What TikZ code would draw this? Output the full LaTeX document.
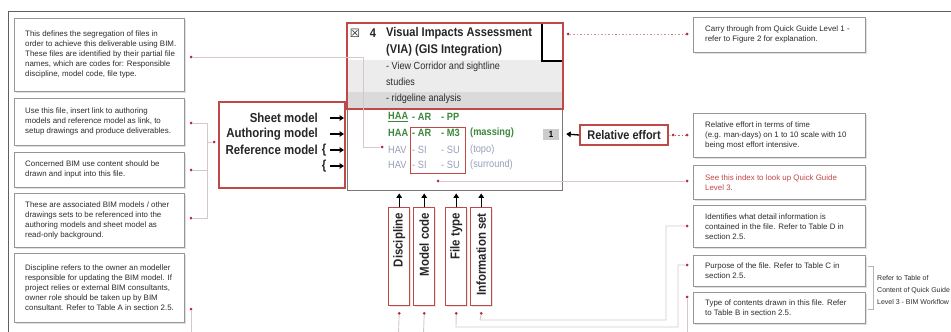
\documentclass[tikz,border=0pt]{standalone}
\usepackage{fontspec}
\setmainfont{Liberation Sans}
\newfontfamily\condfont[FakeStretch=0.88]{Liberation Sans}
\newfontfamily\symbfont{DejaVu Sans}
\usetikzlibrary{arrows.meta,shadows,calc}

\definecolor{boxred}{RGB}{192,72,70}
\definecolor{dotred}{RGB}{175,45,60}
\definecolor{linkgray}{RGB}{214,200,202}
\definecolor{boxgray}{RGB}{150,150,150}
\definecolor{framegray}{RGB}{95,95,95}
\definecolor{bodytext}{RGB}{45,45,45}
\definecolor{codegreen}{RGB}{60,135,60}
\definecolor{codeblue}{RGB}{150,160,185}
\definecolor{bandlight}{RGB}{236,236,236}
\definecolor{banddark}{RGB}{218,218,218}

% explanation box: frame node plus a left-aligned text node
\newcommand\infobox[7][]{%
  \node[infobox, minimum width=#5pt, minimum height=#6pt, anchor=north west] (#2) at (#3,#4) {};
  \node[infotext, anchor=west, #1] (#2t) at ([xshift=11pt]#2.west) {#7};
}

\begin{document}
\begin{tikzpicture}[x=1pt, y=-1pt,
  infobox/.style={draw=boxgray, line width=0.8pt, fill=white, inner sep=0pt,
    drop shadow={shadow xshift=1.2pt, shadow yshift=-1.2pt, opacity=0.25}},
  infotext/.style={font=\fontsize{7.9}{10}\selectfont, text=bodytext, align=left, inner sep=0pt},
  redbox/.style={draw=boxred, line width=1.6pt, fill=white, inner sep=0pt,
    drop shadow={shadow xshift=1.2pt, shadow yshift=-1.2pt, opacity=0.2}},
  boldlab/.style={font=\condfont\bfseries\fontsize{13}{16}\selectfont, text=black!85, inner sep=0pt},
  titlefont/.style={font=\condfont\bfseries\fontsize{12.6}{14}\selectfont},
  vlab/.style={font=\condfont\bfseries\fontsize{13}{14}\selectfont, text=black!85, inner sep=0pt, rotate=90, anchor=east},
  codetxt/.style={font=\condfont\bfseries\fontsize{10.5}{12}\selectfont, inner sep=0pt, anchor=west},
  codelite/.style={codetxt, text=codeblue, font=\condfont\fontsize{10.5}{12}\selectfont},
  subtxt/.style={font=\condfont\fontsize{10.3}{12}\selectfont, text=bodytext, inner sep=0pt, anchor=west},
  dot/.style={circle, fill=dotred, inner sep=0pt, minimum size=3pt},
  link/.style={draw=linkgray, line width=0.9pt},
  dotlink/.style={draw=dotred!55, line width=0.9pt, dash pattern=on 1.5pt off 2pt},
  pointer/.style={-{Triangle[width=5.5pt,length=4.5pt]}, line width=1.3pt, black}]

\clip (0,0) rectangle (951,332);
\fill[white] (0,0) rectangle (951,332);

% outer frame lines
\draw[framegray, line width=1pt] (8,332) -- (8,11) -- (951,11);

% ---------- left explanation boxes ----------
\infobox{b1}{14}{18}{170}{73}{This defines the segregation of files in\\order to achieve this deliverable using BIM.\\These files are identified by their partial file\\names, which are codes for: Responsible\\discipline, model code, file type.}
\infobox{b2}{14}{98}{170}{47}{Use this file, insert link to authoring\\models and reference model as link, to\\setup drawings and produce deliverables.}
\infobox{b3}{14}{152}{170}{35}{Concerned BIM use content should be\\drawn and input into this file.}
\infobox{b4}{14}{193}{170}{54}{These are associated BIM models / other\\drawings sets to be referenced into the\\authoring models and sheet model as\\read-only background.}
\infobox{b5}{14}{253}{170}{69}{Discipline refers to the owner an modeller\\responsible for updating the BIM model. If\\project relies or external BIM consultants,\\owner role should be taken up by BIM\\consultant. Refer to Table A in section 2.5.}

% ---------- right explanation boxes ----------
\infobox[xshift=1pt]{r1}{693}{17}{172}{35}{Carry through from Quick Guide Level 1 -\\refer to Figure 2 for explanation.}
\infobox[xshift=1pt]{r2}{693}{113}{172}{44}{Relative effort in terms of time\\(e.g. man-days) on 1 to 10 scale with 10\\being most effort intensive.}
\infobox[xshift=1pt, text=boxred]{r3}{693}{165}{172}{34}{See this index to look up Quick Guide\\Level 3.}
\infobox[xshift=1pt]{r4}{693}{205}{172}{42}{Identifies what detail information is\\contained in the file. Refer to Table D in\\section 2.5.}
\infobox[xshift=1pt]{r5}{693}{255}{172}{31}{Purpose of the file. Refer to Table C in\\section 2.5.}
\infobox[xshift=1pt]{r6}{693}{292}{172}{31}{Type of contents drawn in this file. Refer\\to Table B in section 2.5.}

% ---------- deliverable card ----------
\node[draw=framegray!85, line width=1.4pt, fill=white, inner sep=0pt,
      minimum width=215pt, minimum height=168pt, anchor=north west] (via) at (347,22) {};
\fill[bandlight] (347,60) rectangle (562,92);
\fill[banddark] (347,92) rectangle (562,108);
\draw[black, line width=1.3pt] (542,22) -- (542,61) -- (562,61);
\node[draw=boxred, line width=1.8pt, inner sep=0pt,
      minimum width=216pt, minimum height=86pt, anchor=north west] (viatop) at (346,22) {};

\node[font=\symbfont\bfseries\fontsize{11.5}{12}\selectfont, text=black!85, inner sep=0pt] (chk) at (355,33) {☒};
\node[boldlab, titlefont] (num) at (373,33) {4};
\node[boldlab, titlefont, anchor=west] (tit1) at (386,33) {Visual Impacts Assessment};
\node[boldlab, titlefont, anchor=west] (tit2) at (386,50) {(VIA) (GIS Integration)};
\node[subtxt] (sub1) at (386,67) {- View Corridor and sightline};
\node[subtxt] (sub2) at (386,82) {studies};
\node[subtxt] (sub3) at (386,99) {- ridgeline analysis};

% file name codes
\node[codetxt, text=codegreen] (c11) at (388,117) {\underline{HAA}};
\node[codetxt, text=codegreen] (c12) at (412,117) {- AR};
\node[codetxt, text=codegreen] (c13) at (441,117) {- PP};
\node[codetxt, text=codegreen] (c21) at (388,133) {HAA};
\node[codetxt, text=codegreen] (c22) at (412,133) {- AR};
\node[codetxt, text=codegreen] (c23) at (441,133) {- M3};
\node[codetxt, text=codegreen] (c24) at (470,133) {(massing)};
\node[codelite] (c31) at (388,150) {HAV};
\node[codelite] (c32) at (412,150) {- SI};
\node[codelite] (c33) at (441,150) {- SU};
\node[codelite] (c34) at (470,150) {(topo)};
\node[codelite] (c41) at (388,165) {HAV};
\node[codelite] (c42) at (412,165) {- SI};
\node[codelite] (c43) at (441,165) {- SU};
\node[codelite] (c44) at (470,165) {(surround)};
\node[draw=boxred, line width=1.4pt, inner sep=0pt,
      minimum width=55pt, minimum height=46pt, anchor=north west] (codebox) at (410,127) {};

% effort value
\node[fill=gray!40, minimum width=16pt, minimum height=11pt, inner sep=0pt,
      font=\condfont\bfseries\fontsize{9}{10}\selectfont] (effval) at (551,134) {1};

% ---------- model type box ----------
\node[redbox, minimum width=126pt, minimum height=86pt, anchor=north west] (sheet) at (218,101) {};
\node[boldlab, anchor=east] (m1) at (318,118) {Sheet model};
\node[boldlab, anchor=east] (m2) at (318,134) {Authoring model};
\node[boldlab, anchor=east] (m3) at (318,150) {Reference model};
\node[boldlab, font=\condfont\bfseries\fontsize{13}{14}\selectfont] (br1) at (324,150) {\{};
\node[boldlab, font=\condfont\bfseries\fontsize{13}{14}\selectfont] (br2) at (324,166) {\{};
\foreach \i/\yy in {1/118, 2/134, 3/150, 4/166} {
  \coordinate (ma\i) at (330,\yy);
  \coordinate (mb\i) at (344,\yy);
  \draw[pointer] (ma\i) -- (mb\i);
}

% ---------- relative effort ----------
\node[redbox, minimum width=88pt, minimum height=20pt] (eff) at (624,135) {};
\node[boldlab, font=\condfont\bfseries\fontsize{12.5}{14}\selectfont] (efft) at (624,135) {Relative effort};
\coordinate (effend) at ($(effval.east)+(7,0)$);
\draw[pointer] (eff.west) -- (effend);

% ---------- code part boxes ----------
\foreach \nm/\xx/\txt in {disc/388/Discipline, mcode/413/Model code, ftype/445/File type, iset/470/Information set} {
  \node[redbox, line width=1.4pt, minimum width=21pt, minimum height=98pt, anchor=north west] (\nm) at (\xx,207) {};
  \node[vlab] (\nm t) at ($(\nm.north)+(0,6)$) {\txt};
  \coordinate (\nm top) at ($(\nm.north |- via.south)+(0,2)$);
  \draw[pointer] (\nm.north) -- (\nm top);
  \node[dot] (\nm d) at ($(\nm.south)+(0,7)$) {};
}

% ---------- connector dots ----------
\node[dot] (b1d) at (191,57) {};
\node[dot] (b2d) at (191,123) {};
\node[dot] (b3d) at (191,170) {};
\node[dot] (b4d) at (191,218) {};
\node[dot] (b5d) at (191,309) {};
\node[dot] (sheetd) at (214,142) {};
\node[dot] (havd) at (382,147) {};
\node[dot] (viad) at (568,34) {};
\node[dot] (idxd) at (438,181) {};
\node[dot] (effd) at (673,135) {};
\node[dot] (r1d) at (687,34) {};
\node[dot] (r2d) at (687,135) {};
\node[dot] (r3d) at (687,181) {};
\node[dot] (r4d) at (687,226) {};
\node[dot] (r5d) at (687,265) {};
\node[dot] (r6d) at (687,297) {};

\coordinate (brk) at (207,142);
\coordinate (b5end) at (191,334);
\coordinate (r6end) at (687,334);
\coordinate (discend) at (398.5,334);
\coordinate (mcodeend) at (423.5,334);

% ---------- connectors ----------
\draw[link] (b1d) -- (363,57) -- (363,147) -- (havd);
\draw[link] (b2d) -- (b2d -| brk) -- (b4d -| brk) -- (b4d);
\draw[link] (b3d) -- (b3d -| brk);
\draw[link] (brk) -- (sheetd);
\draw[link] (b5d) -- (b5end);
\draw[dotlink] (viad) -- (r1d);
\draw[dotlink, draw=dotred!75] (effd) -- (r2d);
\draw[link] (eff.east) -- (effd);
\draw[link] (idxd) -- (r3d);
\draw[link] (isetd) -- (480,320) -- (666,320) -- (666,226) -- (r4d);
\draw[link] (ftyped) -- (456,327) -- (678,327) -- (678,265) -- (r5d);
\draw[link] (r6d) -- (r6end);
\draw[link] (discd) -- (discend);
\draw[link] (mcoded) -- (mcodeend);

% bracket and note on the table of content
\draw[draw=boxgray!70, line width=0.8pt] (868,266) -- (873,266) -- (873,309) -- (868,309);
\node[infotext, font=\fontsize{7}{12}\selectfont, anchor=west] (reftxt) at (877,290)
  {Refer to Table of\\Content of Quick Guide\\Level 3 - BIM Workflow};

\end{tikzpicture}
\end{document}
